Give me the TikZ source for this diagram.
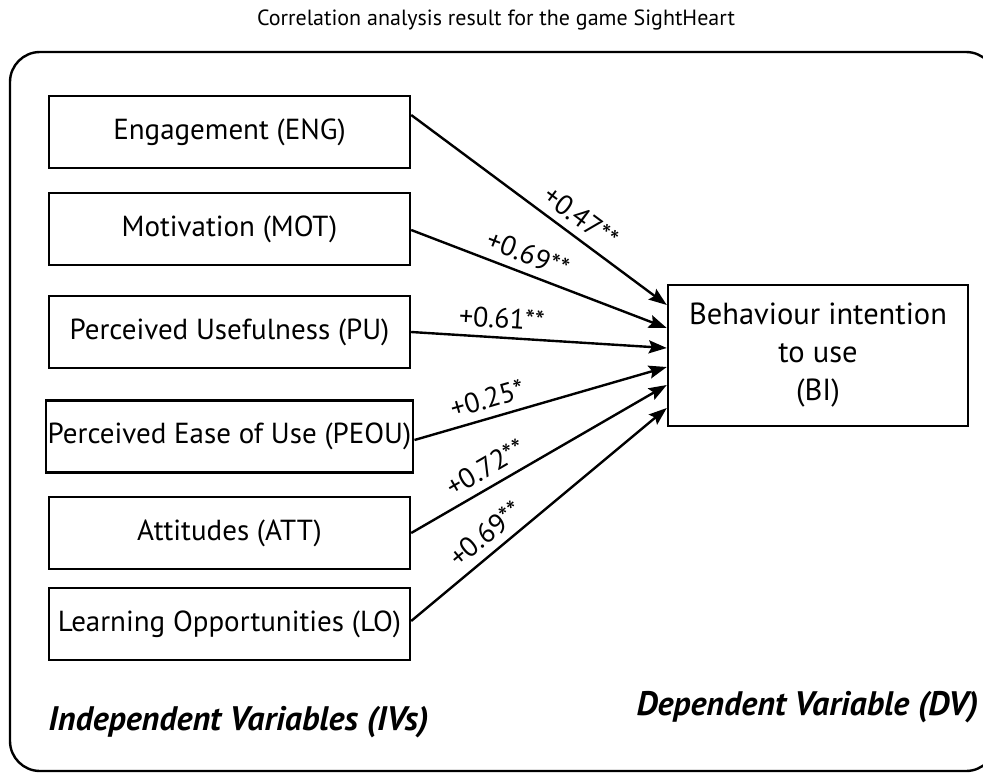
\documentclass[tikz,border=0pt]{standalone}
\usepackage{fontspec}
\setmainfont{PT Sans}
\usetikzlibrary{arrows.meta,positioning,calc}
\tikzset{
  >={Stealth[length=18pt,width=13pt,inset=3pt]},
  ivbox/.style={draw,line width=2.4pt,minimum width=361pt,minimum height=72pt,
    inner sep=2pt,font=\fontsize{29}{32}\selectfont},
  dvbox/.style={draw,line width=2.4pt,minimum width=300pt,minimum height=141pt,
    align=center,font=\fontsize{30.5}{38}\selectfont},
  conn/.style={->,line width=2.4pt},
  wlbl/.style={sloped,above=8pt,inner sep=0pt,font=\fontsize{28}{30}\selectfont},
  grp/.style={font=\fontsize{34}{38}\selectfont\bfseries\itshape},
}

\begin{document}
\begin{tikzpicture}[x=1pt,y=-1pt]
  \useasboundingbox (0,0) rectangle (983,773);
  \clip (0,0) rectangle (983,773);
  \fill[white] (0,0) rectangle (983,773);
  % title and frame
  \node[font=\fontsize{22}{26}\selectfont] (title) at (496,20) {Correlation analysis result for the game SightHeart};
  \draw[line width=2.4pt,rounded corners=30pt] (10,52) rectangle (996,771);
  % independent variables
  \foreach \nm/\yy/\txt in {eng/132/{Engagement (ENG)},mot/229/{Motivation (MOT)},
      pu/332/{Perceived Usefulness (PU)},peou/436.5/{Perceived Ease of Use (PEOU)},
      att/533/{Attitudes (ATT)},lo/624/{Learning Opportunities (LO)}}
    \node[ivbox] (\nm) at (229.5,\yy) {\txt};
  % dependent variable
  \node[dvbox] (bi) at (818,355.5) {Behaviour intention\\to use\\(BI)};
  % correlations
  \foreach \nm/\sy/\dy/\t/\v in {eng/-17/-50.5/0.62/{+0.47**},mot/1/-27.5/0.43/{+0.69**},
      pu/0/-7.5/0.35/{+0.61**},peou/3.5/11.5/0.31/{+0.25*},
      att/0/29.5/0.33/{+0.72**},lo/-3/52.5/0.34/{+0.69**}}
    \draw[conn] ($(\nm.east)+(0,\sy)$) -- node[wlbl,pos=\t] {\v} ($(bi.west)+(0,\dy)$);
  \node[grp] (ivs) at (238.5,722) {Independent Variables (IVs)};
  \node[grp] (dvs) at (807.5,707) {Dependent Variable (DV)};
\end{tikzpicture}
\end{document}
